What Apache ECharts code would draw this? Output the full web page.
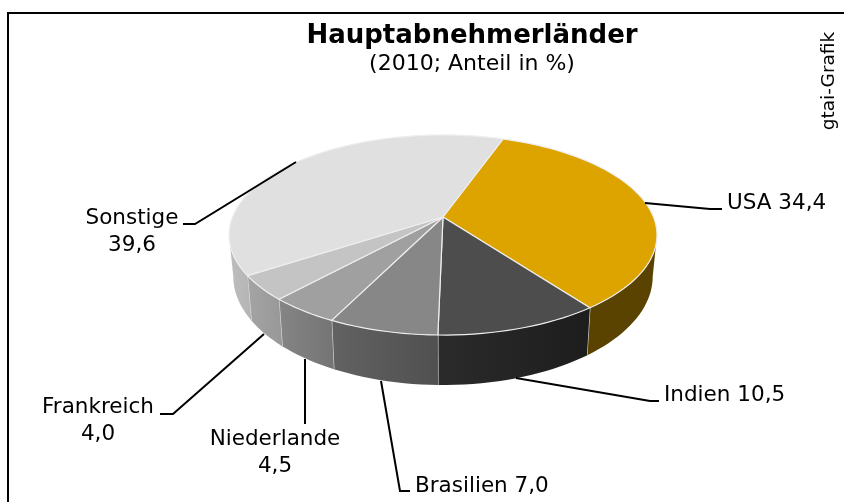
<!DOCTYPE html>
<html>
<head>
<meta charset="utf-8">
<title>Hauptabnehmerländer</title>
<script src="https://cdn.jsdelivr.net/npm/echarts@6/dist/echarts.min.js"></script>
<style>
  html, body { margin: 0; padding: 0; background: #fff; }
  #chart { width: 844px; height: 502px; }
</style>
</head>
<body>
<div id="chart"></div>
<script>
// Werte aus der Grafik
const countries = ['USA', 'Indien', 'Brasilien', 'Niederlande', 'Frankreich', 'Sonstige'];
const shares = [34.4, 10.5, 7.0, 4.5, 4.0, 39.6];

const topColors = ['#DDA400', '#4D4D4D', '#878787', '#A0A0A0', '#C4C4C4', '#E0E0E0'];
const wallColors = [
  ['#5A4300', '#5A4300'],
  ['#2B2B2B', '#1D1D1D'],
  ['#626262', '#505050'],
  ['#858585', '#747474'],
  ['#A4A4A4', '#989898'],
  ['#BEBEBE', '#B4B4B4']
];

// Projektion der Scheibe (leichte Perspektive)
const FONT = '"DejaVu Sans", Verdana, sans-serif';
const CX = 443, CY = 217, RX = 210.5, RY = 96.8, PERSP = 0.18;
const START_DEG = 19.5;
const BOTTOM_SCALE = 0.98;
// Tangentenwinkel: dort beginnt/endet die sichtbare Seitenwand
const EDGE_DEG = Math.acos(-PERSP) * 180 / Math.PI;

function rimPoint(deg, bottom) {
  const t = deg * Math.PI / 180;
  const x = Math.sin(t), z = Math.cos(t);
  const w = 1 + PERSP * z;
  const px = RX * x / w, py = -RY * z / w;
  if (!bottom) return [CX + px, CY + py];
  return [CX + px * BOTTOM_SCALE, CY + py + 40 / (1 + 0.2 * z)];
}

const total = shares.reduce((a, b) => a + b, 0);
function sliceRange(idx) {
  let from = START_DEG;
  for (let i = 0; i < idx; i++) from += shares[i] / total * 360;
  return [from, from + shares[idx] / total * 360];
}

function arcPoints(a, b, bottom) {
  const n = Math.max(2, Math.ceil(Math.abs(b - a) / 2));
  const pts = [];
  for (let i = 0; i <= n; i++) pts.push(rimPoint(a + (b - a) * i / n, bottom));
  return pts;
}

function renderWall(params, api) {
  const idx = api.value(0);
  const range = sliceRange(idx);
  // nur der vordere Teil ist sichtbar
  const a = Math.max(range[0], EDGE_DEG), b = Math.min(range[1], 360 - EDGE_DEG);
  if (b <= a) return { type: 'group', children: [] };
  const top = arcPoints(a, b, false);
  const bottom = arcPoints(a, b, true).reverse();
  const children = [{
    type: 'polygon',
    shape: { points: top.concat(bottom) },
    style: {
      fill: new echarts.graphic.LinearGradient(0, 0, 1, 0, [
        { offset: 0, color: wallColors[idx][0] },
        { offset: 1, color: wallColors[idx][1] }
      ])
    }
  }];
  // helle Trennlinie am Ende der Scheibe
  if (b === range[1]) {
    children.push({
      type: 'line',
      shape: {
        x1: top[top.length - 1][0], y1: top[top.length - 1][1],
        x2: bottom[0][0], y2: bottom[0][1]
      },
      style: { stroke: '#DCDCDC', lineWidth: 1.2 }
    });
  }
  return { type: 'group', children: children };
}

function renderTop(params, api) {
  const idx = api.value(0);
  const range = sliceRange(idx);
  return {
    type: 'polygon',
    shape: { points: [[CX, CY]].concat(arcPoints(range[0], range[1], false)) },
    style: { fill: topColors[idx], stroke: '#EEEEEE', lineWidth: 1.2, lineJoin: 'round' }
  };
}

// Beschriftung
const deComma = (v) => v.toFixed(1).replace('.', ',');
const labelAnchors = [
  { x: 727, y: 203, align: 'left', sep: ' ' },
  { x: 664, y: 395, align: 'left', sep: ' ' },
  { x: 415, y: 486, align: 'left', sep: ' ' },
  { x: 275, y: 453, align: 'center', sep: '\n' },
  { x: 98, y: 421, align: 'center', sep: '\n' },
  { x: 132, y: 232, align: 'center', sep: '\n' }
];
const leaderLines = [
  [[645, 203], [710, 209], [722, 209]],
  [[516, 378], [650, 401], [659, 401]],
  [[381, 381], [400, 491], [410, 491]],
  [[305, 359], [305, 424]],
  [[264, 334], [173, 414], [160, 414]],
  [[296, 162], [195, 224], [183, 224]]
];

const graphics = [
  { type: 'line', shape: { x1: 7, y1: 13, x2: 844, y2: 13 }, style: { stroke: '#000', lineWidth: 2 } },
  { type: 'line', shape: { x1: 8, y1: 12, x2: 8, y2: 502 }, style: { stroke: '#000', lineWidth: 2 } },
  {
    type: 'text', x: 829, y: 81, rotation: Math.PI / 2,
    style: { text: 'gtai-Grafik', font: '18.5px ' + FONT, fill: '#000', align: 'center', verticalAlign: 'middle' }
  }
];
leaderLines.forEach((pts) => {
  graphics.push({
    type: 'polyline', z: 10, shape: { points: pts },
    style: { stroke: '#000', lineWidth: 2, fill: null }
  });
});
countries.forEach((name, i) => {
  const l = labelAnchors[i];
  graphics.push({
    type: 'text', x: l.x, y: l.y, z: 10,
    style: {
      text: name + l.sep + deComma(shares[i]),
      font: '21.5px ' + FONT, fill: '#000',
      align: l.align, verticalAlign: 'middle', lineHeight: 27
    }
  });
});

const seriesData = countries.map((name, i) => [i, shares[i], name]);

const chart = echarts.init(document.getElementById('chart'), null, { renderer: 'canvas' });
chart.setOption({
  animation: false,
  backgroundColor: '#fff',
  title: {
    text: 'Hauptabnehmerländer',
    subtext: '(2010; Anteil in %)',
    left: 472, top: 23, textAlign: 'center', itemGap: 4, padding: 0,
    textStyle: { fontFamily: FONT, fontSize: 26, fontWeight: 'bold', color: '#000' },
    subtextStyle: { fontFamily: FONT, fontSize: 22, color: '#000' }
  },
  tooltip: { show: false },
  graphic: graphics,
  series: [
    { type: 'custom', coordinateSystem: 'none', silent: true, z: 2, renderItem: renderWall, data: seriesData },
    { type: 'custom', coordinateSystem: 'none', silent: true, z: 3, renderItem: renderTop, data: seriesData }
  ]
});
</script>
</body>
</html>
